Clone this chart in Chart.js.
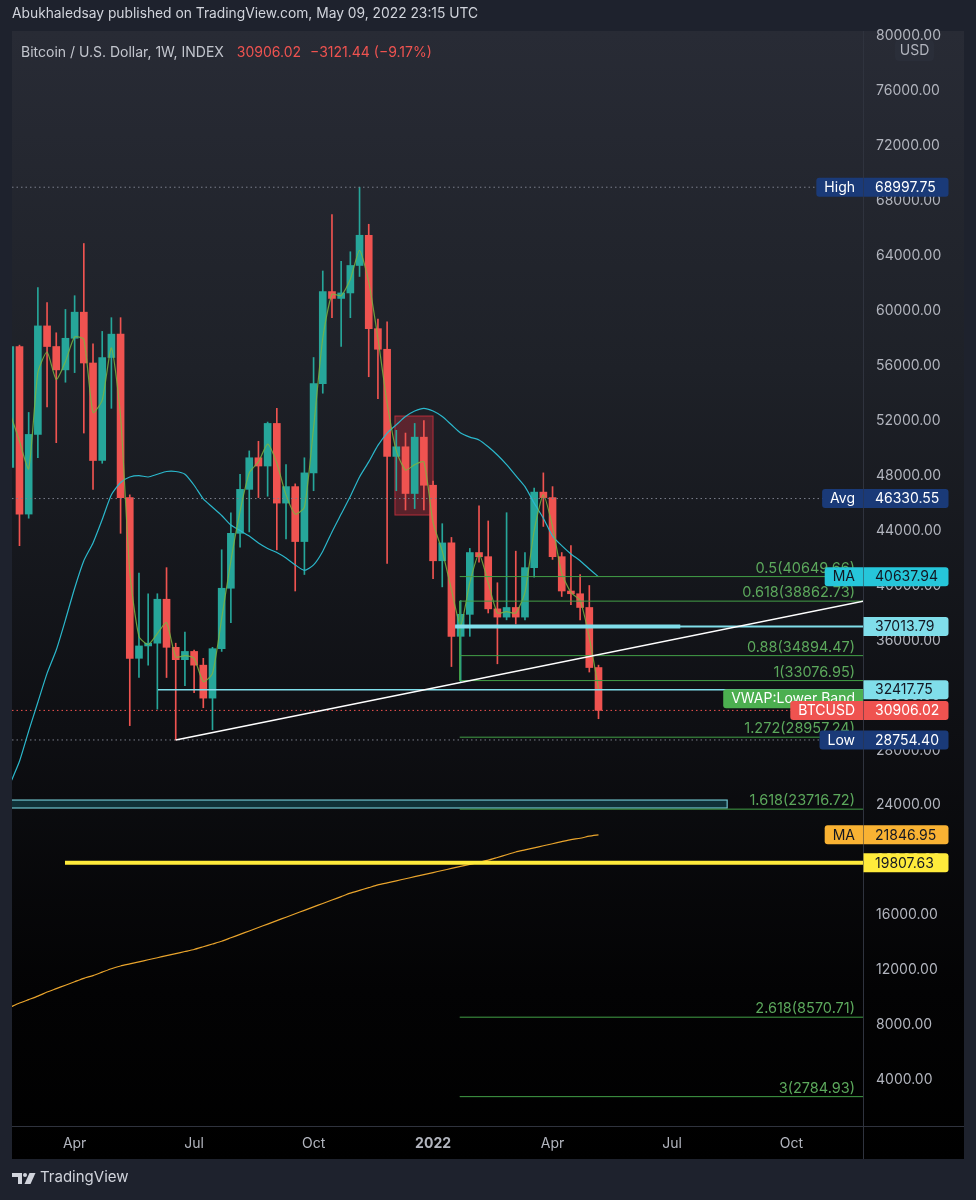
<!DOCTYPE html>
<html>
<head>
<meta charset="utf-8">
<script src="https://cdn.jsdelivr.net/npm/chart.js@4.4.1/dist/chart.umd.min.js"></script>
<style>
html,body{margin:0;padding:0;background:#1e222d;width:976px;height:1200px;overflow:hidden;}
#wrap{position:relative;width:976px;height:1200px;}
#c{position:absolute;left:0;top:0;}
.t{position:absolute;font-family:Inter,"Noto Sans",sans-serif;white-space:nowrap;}
#hdr{left:12px;top:5px;font-size:13.8px;color:#d1d4dc;}
#leg{left:21px;top:43px;font-size:14px;color:#c3c6ce;}
#leg .r{color:#ef5350;margin-left:9px;}
#ftr{left:40px;top:1167px;font-size:15px;color:#d1d4dc;}
#logo{position:absolute;left:12px;top:1173px;}
</style>
</head>
<body>
<div id="wrap">
<canvas id="c" width="976" height="1200"></canvas>
<div class="t" id="hdr">Abukhaledsay published on TradingView.com, May 09, 2022 23:15 UTC</div>
<div class="t" id="leg">Bitcoin / U.S. Dollar, 1W, INDEX <span class="r">30906.02</span><span class="r">−3121.44 (−9.17%)</span></div>
<svg id="logo" width="24" height="12" viewBox="0 0 24 12"><path d="M0 0h10v11H6V4H0z" fill="#d1d4dc"/><circle cx="13" cy="2" r="2" fill="#d1d4dc"/><path d="M17.5 0h6l-5 11h-6z" fill="#d1d4dc"/></svg>
<div class="t" id="ftr">TradingView</div>
</div>
<script>
// ---- weekly candles (week 0 = 2021-02-15 ... week 64 = 2022-05-09) ----
const opens  = [48600,57400,45200,51000,58900,57400,55700,58000,59900,56200,49100,56600,58300,46400,34700,35600,35800,39000,35500,34600,35200,34200,31800,35400,39800,43800,47000,49300,48700,51800,46000,47200,43200,48200,54700,61400,60900,61300,63300,65500,58700,57200,49400,50100,46700,50800,47300,41800,43100,36300,37900,42400,42100,38300,37700,38400,37700,41300,46800,46400,42100,39600,39400,38400,34027.46];
const highs  = [58300,57500,52600,61700,60600,58400,60100,61100,64900,57600,58500,59500,59500,46600,40900,39400,39400,41300,35800,36600,35300,34700,35500,42600,45300,48100,49800,50500,51900,52900,48800,47400,49300,56600,62900,67000,63600,64300,68997.75,66300,59400,59200,51300,51100,51800,52000,47600,44500,43500,38900,42700,45800,44700,40200,45300,42500,42400,47100,48200,47200,42400,42900,40800,40000,34200];
const lows   = [47000,42900,44900,49300,53000,50400,54800,55500,51100,47000,48900,52900,43800,29800,33300,34200,31000,33300,28754.4,32700,32200,31100,29500,35200,37300,42800,43900,46400,46500,42600,43400,39600,40800,46900,54000,59500,57400,59500,62500,55200,53600,41600,46900,45500,45600,45500,40500,39900,34100,33000,36300,41700,38000,34300,37500,37200,37500,40600,44300,41900,39200,38600,37500,33700,30300];
const closes = [57400,45200,51000,58900,57400,55700,58000,59900,56200,49100,56600,58300,46400,34700,35600,35800,39000,35500,34600,35200,34200,31800,35400,39800,43800,47000,49300,48700,51800,46000,47200,43200,48200,54700,61400,60900,61300,63300,65500,58700,57200,49400,50100,46700,50800,47300,41800,43100,36300,37900,42400,42100,38300,37700,38400,37700,41300,46800,46400,42100,39600,39400,38400,34027.46,30906.02];

// ---- indicator lines ----
const fastMA = [52500,50500,48500,55500,57000,55000,56300,58100,57900,52600,53500,57300,52300,41000,36300,35700,36500,37300,34800,34900,34700,33000,33600,37600,41800,45400,48200,49000,50300,48900,46600,45200,45700,51500,58000,61200,61100,62300,64400,62100,58000,53300,49800,48400,48800,49000,44600,42500,39700,37100,40200,42300,40200,38000,38100,38000,39500,44000,46600,44300,40900,39500,38900,36200,32500];
const ma20 = [25600,27200,29400,31500,33600,35300,37500,39800,41800,43100,44800,46600,47500,47900,48000,47900,48100,48300,48300,48100,47300,46300,45700,45100,44400,44000,43600,43100,42700,42400,42000,41500,41100,41500,42500,43900,45200,46500,47900,49000,50200,51100,51700,52300,52700,52900,52700,52300,51700,51100,50800,50600,50100,49500,48800,48000,47200,46000,44900,43600,42900,42300,41800,41200,40637.94];
const ma200 = [9300,9600,9850,10100,10400,10650,10900,11150,11400,11600,11850,12100,12300,12450,12600,12750,12900,13050,13200,13350,13500,13700,13900,14100,14350,14600,14850,15100,15350,15600,15850,16100,16350,16600,16850,17100,17350,17600,17800,18000,18200,18350,18500,18650,18800,18950,19100,19250,19400,19550,19700,19850,20000,20200,20400,20600,20750,20900,21050,21200,21350,21500,21600,21750,21846.95];

// ---- drawings ----
const fibRatios = ['0.5','0.618','0.88','1','1.272','1.618','2.618','3'];
const fibPrices = [40649.66,38862.73,34894.47,33076.95,28957.24,23716.72,8570.71,2784.93];
const fibStartWeek = 48.9;
const highPrice = 68997.75, avgPrice = 46330.55, lowPrice = 28754.40, lastPrice = 30906.02;
const vwapLower = 32417.75, levelCyan = 37013.79, levelYellow = 19807.63;
const trendWeeks = [18, 92.8], trendPrices = [28754.4, 38850];
const redBoxWeeks = [41.85, 46.0], redBoxPrices = [45130, 52340];
const cyanBoxWeeks = [-1, 78.0], cyanBoxPrices = [23800, 24380];
const vwapStartWeek = 16.07, cyanStartWeek = 48.4, cyanThickEndWeek = 72.9, yellowStartWeek = 5.95;

// ---- axes ----
const yTicks = [4000,8000,12000,16000,20000,24000,28000,32000,36000,40000,44000,48000,52000,56000,60000,64000,68000,72000,76000,80000];
const timeTickWeeks = [7,20,33,46,59,72,85];
const timeTickLabels = ['Apr','Jul','Oct','2022','Apr','Jul','Oct'];
const X_MIN = 0.185, X_MAX = 92.78, Y_MIN = 648, Y_MAX = 80372;

const UP = '#26a69a', DOWN = '#ef5350';
const FONT = 'Inter, "Noto Sans", sans-serif';
const idx = opens.map((_, i) => i);
const candleColors = idx.map(i => closes[i] >= opens[i] ? UP : DOWN);

function hLine(v, x0, x1, color, width, dash, order) {
  return {type:'line', data:[{x:x0,y:v},{x:x1,y:v}], borderColor:color, borderWidth:width,
    borderDash:dash||[], pointRadius:0, fill:false, tension:0, clip:0, order:order==null?1:order};
}
function series(arr, color, width, order) {
  return {type:'line', data:arr.map((v,i)=>({x:i,y:v})), borderColor:color, borderWidth:width,
    pointRadius:0, fill:false, tension:0.2, clip:0, order:order};
}
const datasets = [
  {type:'bar', data: idx.map(i=>({x:i, y:[lows[i], highs[i]]})), backgroundColor:candleColors, barThickness:1, grouped:false, clip:0, order:20},
  {type:'bar', data: idx.map(i=>({x:i, y:[opens[i], closes[i]]})), backgroundColor:candleColors, barThickness:7, minBarLength:1, grouped:false, clip:0, order:19},
  series(ma200, '#e9a42c', 1.2, 5),
  series(ma20, '#2bb8cc', 1.2, 5),
  series(fastMA, 'rgba(124,179,66,0.85)', 1.2, 4),
  hLine(highPrice, X_MIN, X_MAX, '#7b7f8c', 1, [1.5,3], 8),
  hLine(avgPrice, X_MIN, X_MAX, '#7b7f8c', 1, [1.5,3], 8),
  hLine(lowPrice, X_MIN, X_MAX, '#7b7f8c', 1, [1.5,3], 8),
  hLine(lastPrice, X_MIN, X_MAX, '#ef5350', 1, [1.5,3], 8),
  hLine(levelYellow, yellowStartWeek, X_MAX, '#ffeb3b', 4, null, 2),
  hLine(vwapLower, vwapStartWeek, X_MAX, '#80deea', 1.5, null, 2),
  hLine(levelCyan, cyanStartWeek, X_MAX, '#80deea', 2, null, 2),
  hLine(levelCyan, cyanStartWeek, cyanThickEndWeek, '#80deea', 4, null, 2),
  {type:'line', data:[{x:trendWeeks[0],y:trendPrices[0]},{x:trendWeeks[1],y:trendPrices[1]}], borderColor:'#ffffff', borderWidth:1.5, pointRadius:0, fill:false, clip:0, order:1},
  {type:'line', data:[{x:fibStartWeek,y:fibPrices[1]},{x:fibStartWeek,y:fibPrices[3]}], borderColor:'#43a047', borderWidth:1, pointRadius:0, fill:false, clip:0, order:3},
];
fibPrices.forEach(p => datasets.push(hLine(p, fibStartWeek, X_MAX, '#43a047', 1, null, 3)));

const panePlugin = {
  id:'pane',
  beforeDraw(chart){
    const ctx = chart.ctx, ca = chart.chartArea;
    ctx.save();
    const g = ctx.createLinearGradient(0, 31, 0, 1159);
    g.addColorStop(0,'#282b35'); g.addColorStop(0.3,'#1e2128'); g.addColorStop(0.62,'#0e0f13'); g.addColorStop(0.85,'#030304'); g.addColorStop(1,'#000000');
    ctx.fillStyle = g; ctx.fillRect(12, 31, 952, 1128);
    ctx.strokeStyle = '#2f333e'; ctx.lineWidth = 1;
    ctx.beginPath();
    ctx.moveTo(Math.round(ca.right)+0.5, 31); ctx.lineTo(Math.round(ca.right)+0.5, 1159);
    ctx.moveTo(12, Math.round(ca.bottom)+0.5); ctx.lineTo(964, Math.round(ca.bottom)+0.5);
    ctx.stroke();
    ctx.restore();
  },
  beforeDatasetsDraw(chart){
    const ctx = chart.ctx, ca = chart.chartArea, xs = chart.scales.x, ys = chart.scales.y;
    ctx.save();
    ctx.beginPath(); ctx.rect(ca.left, ca.top, ca.right-ca.left, ca.bottom-ca.top); ctx.clip();
    let x0 = xs.getPixelForValue(cyanBoxWeeks[0]), x1 = xs.getPixelForValue(cyanBoxWeeks[1]);
    let y0 = ys.getPixelForValue(cyanBoxPrices[1]), y1 = ys.getPixelForValue(cyanBoxPrices[0]);
    ctx.fillStyle = 'rgba(38,198,218,0.2)'; ctx.fillRect(x0, y0, x1-x0, y1-y0);
    ctx.strokeStyle = 'rgba(128,222,234,0.85)'; ctx.lineWidth = 1.2; ctx.strokeRect(x0, y0, x1-x0, y1-y0);
    x0 = xs.getPixelForValue(redBoxWeeks[0]); x1 = xs.getPixelForValue(redBoxWeeks[1]);
    y0 = ys.getPixelForValue(redBoxPrices[1]); y1 = ys.getPixelForValue(redBoxPrices[0]);
    ctx.fillStyle = 'rgba(242,54,69,0.3)'; ctx.fillRect(x0, y0, x1-x0, y1-y0);
    ctx.strokeStyle = 'rgba(242,54,69,0.65)'; ctx.lineWidth = 1; ctx.strokeRect(x0, y0, x1-x0, y1-y0);
    ctx.restore();
  },
  afterDraw(chart){
    const ctx = chart.ctx, ys = chart.scales.y, ca = chart.chartArea;
    ctx.save();
    ctx.font = '14.5px ' + FONT; ctx.textAlign = 'right'; ctx.textBaseline = 'alphabetic';
    ctx.fillStyle = '#5ca85c';
    fibPrices.forEach((p,i) => {
      const y = ys.getPixelForValue(p);
      ctx.fillText(fibRatios[i] + '(' + p.toFixed(2) + ')', ca.right - 8, y - 4);
    });
    const R = Math.round(ca.right);
    function tag(v, label, lBg, lFg, vBg, vFg, dy){
      const y = ys.getPixelForValue(v), h = 19;
      ctx.font = '14px ' + FONT; ctx.textBaseline = 'middle';
      if (vBg){
        ctx.fillStyle = vBg; ctx.beginPath(); ctx.roundRect(R+0.5, y-h/2, 85, h, [0,3,3,0]); ctx.fill();
        ctx.fillStyle = vFg; ctx.textAlign = 'left'; ctx.fillText(v.toFixed(2), R+12, y+0.5);
      }
      if (label){
        const yy = y + (dy||0);
        const w = ctx.measureText(label).width + 16;
        ctx.fillStyle = lBg; ctx.beginPath(); ctx.roundRect(R-w, yy-h/2, w, h, [3,0,0,3]); ctx.fill();
        ctx.fillStyle = lFg; ctx.textAlign = 'center'; ctx.fillText(label, R - w/2, yy+0.5);
      }
    }
    const NAVY = '#1a3a78', DARK = '#131722';
    tag(highPrice, 'High', NAVY, '#ffffff', NAVY, '#ffffff');
    tag(avgPrice, 'Avg', NAVY, '#ffffff', NAVY, '#ffffff');
    tag(ma20[ma20.length-1], 'MA', '#26c6da', DARK, '#26c6da', DARK);
    tag(levelCyan, null, null, null, '#80deea', DARK);
    tag(vwapLower, null, null, null, '#80deea', DARK);
    tag(vwapLower, 'VWAP:Lower Band', '#4caf50', '#ffffff', null, null, 9);
    tag(lastPrice, 'BTCUSD', '#ef5350', '#ffffff', '#ef5350', '#ffffff');
    tag(lowPrice, 'Low', NAVY, '#ffffff', NAVY, '#ffffff');
    tag(ma200[ma200.length-1], 'MA', '#f9b233', DARK, '#f9b233', DARK);
    tag(levelYellow, null, null, null, '#ffeb3b', DARK);
    ctx.fillStyle = '#2a2e39'; ctx.beginPath(); ctx.roundRect(895, 40, 39, 21, 4); ctx.fill();
    ctx.fillStyle = '#b2b5be'; ctx.font = '14px ' + FONT; ctx.textAlign = 'center'; ctx.textBaseline = 'middle';
    ctx.fillText('USD', 914.5, 51);
    ctx.restore();
  }
};

new Chart(document.getElementById('c'), {
  type:'bar',
  data:{datasets},
  options:{
    responsive:false, animation:false, events:[],
    layout:{padding:{left:12, top:31, right:12, bottom:41}},
    plugins:{legend:{display:false}, tooltip:{enabled:false}},
    scales:{
      x:{type:'linear', min:X_MIN, max:X_MAX, offset:false,
         grid:{display:false, drawTicks:false}, border:{display:false},
         afterFit(s){ s.height = 33; },
         afterBuildTicks(s){ s.ticks = timeTickWeeks.map(v=>({value:v})); },
         ticks:{autoSkip:false, maxRotation:0, padding:9, color:'#b2b5be',
           font:(c)=>({family:FONT, size:14, weight: (c.tick && c.tick.value===46) ? 'bold' : 'normal'}),
           callback:(v,i)=>timeTickLabels[i]}},
      y:{type:'linear', position:'right', min:Y_MIN, max:Y_MAX,
         grid:{display:false, drawTicks:false}, border:{display:false},
         afterFit(s){ s.width = 101; },
         afterBuildTicks(s){ s.ticks = yTicks.map(v=>({value:v})); },
         ticks:{padding:13, color:'#b2b5be', font:{family:FONT, size:14}, callback:(v)=>Number(v).toFixed(2)}}
    }
  },
  plugins:[panePlugin]
});
</script>
</body>
</html>
